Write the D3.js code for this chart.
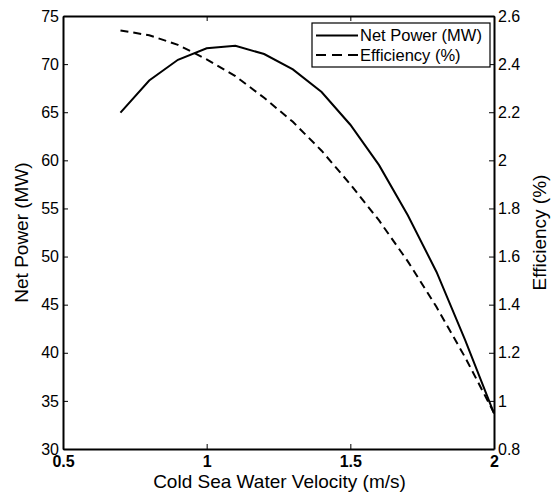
<!DOCTYPE html>
<html>
<head>
<meta charset="utf-8" />
<title>Net Power and Efficiency</title>
<style>
html, body { margin: 0; padding: 0; background: #fff; }
svg text { font-family: "Liberation Sans", Arial, Helvetica, sans-serif; fill: #000; }
</style>
</head>
<body>
<div id="chart"></div>
<script src="https://cdnjs.cloudflare.com/ajax/libs/d3/7.8.5/d3.min.js"></script>
<script>
// velocity (m/s)
var velocity = [0.7, 0.8, 0.9, 1.0, 1.1, 1.2, 1.3, 1.4, 1.5, 1.6, 1.7, 1.8, 1.9, 2.0]
// net power (MW)
var netPower = [64.95, 68.3, 70.45, 71.65, 71.9, 71.05, 69.45, 67.1, 63.7, 59.5, 54.3, 48.4, 41.3, 33.7]
// efficiency (%)
var efficiency = [2.54, 2.52, 2.48, 2.42, 2.35, 2.26, 2.16, 2.04, 1.90, 1.75, 1.58, 1.39, 1.18, 0.95]

var xTicks = [0.5, 1, 1.5, 2]
var yLeftTicks = [30, 35, 40, 45, 50, 55, 60, 65, 70, 75]
var yRightTicks = [0.8, 1, 1.2, 1.4, 1.6, 1.8, 2, 2.2, 2.4, 2.6]

var width = 555, height = 497
var m = {left: 63, right: 61, top: 16, bottom: 48}
var w = width - m.left - m.right, h = height - m.top - m.bottom

var svg = d3.select("#chart").append("svg")
    .attr("width", width).attr("height", height)
var g = svg.append("g").attr("transform", "translate(" + m.left + "," + m.top + ")")

var x = d3.scaleLinear().domain([0.5, 2]).range([0, w])
var yL = d3.scaleLinear().domain([30, 75]).range([h, 0])
var yR = d3.scaleLinear().domain([0.8, 2.6]).range([h, 0])

// axes
var xAxis = g.append("g").attr("transform", "translate(0," + h + ")")
    .call(d3.axisBottom(x).tickValues(xTicks).tickFormat(d3.format("")).tickSizeInner(-5).tickSizeOuter(0).tickPadding(7))
xAxis.selectAll("text").style("font-size", "16px").style("font-weight", "bold")

var xTop = g.append("g")
    .call(d3.axisTop(x).tickValues(xTicks).tickFormat("").tickSizeInner(-5).tickSizeOuter(0))

var yAxisL = g.append("g")
    .call(d3.axisLeft(yL).tickValues(yLeftTicks).tickSizeInner(-5).tickSizeOuter(0).tickPadding(4))
yAxisL.selectAll("text").style("font-size", "16px")

var yAxisR = g.append("g").attr("transform", "translate(" + w + ",0)")
    .call(d3.axisRight(yR).tickValues(yRightTicks).tickFormat(d3.format("")).tickSizeInner(-5).tickSizeOuter(0).tickPadding(4))
yAxisR.selectAll("text").style("font-size", "16px")

g.selectAll(".domain").attr("stroke", "#000").attr("stroke-width", 2)
g.selectAll(".tick line").attr("stroke", "#000")

// lines
var linePower = d3.line().x(function(d, i) { return x(velocity[i]) }).y(function(d) { return yL(d) })
var lineEff = d3.line().x(function(d, i) { return x(velocity[i]) }).y(function(d) { return yR(d) })

g.append("path").datum(efficiency).attr("d", lineEff)
    .attr("fill", "none").attr("stroke", "#000").attr("stroke-width", 2).attr("stroke-dasharray", "8,5")
g.append("path").datum(netPower).attr("d", linePower)
    .attr("fill", "none").attr("stroke", "#000").attr("stroke-width", 2)

// legend
var lg = svg.append("g").attr("transform", "translate(312,23)")
lg.append("rect").attr("width", 178).attr("height", 44)
    .attr("fill", "#fff").attr("stroke", "#000").attr("stroke-width", 1.2)
lg.append("line").attr("x1", 4).attr("x2", 46).attr("y1", 12.5).attr("y2", 12.5)
    .attr("stroke", "#000").attr("stroke-width", 2)
lg.append("line").attr("x1", 4).attr("x2", 46).attr("y1", 32).attr("y2", 32)
    .attr("stroke", "#000").attr("stroke-width", 2).attr("stroke-dasharray", "10,6")
lg.append("text").attr("x", 48).attr("y", 12.5).attr("dy", "0.35em").style("font-size", "16.5px").text("Net Power (MW)")
lg.append("text").attr("x", 48).attr("y", 32).attr("dy", "0.35em").style("font-size", "16.5px").text("Efficiency (%)")

// axis titles
svg.append("text").attr("x", 279.5).attr("y", 487.5).attr("text-anchor", "middle")
    .style("font-size", "19px").text("Cold Sea Water Velocity (m/s)")
svg.append("text").attr("transform", "translate(28," + (m.top + h / 2) + ") rotate(-90)")
    .attr("text-anchor", "middle").style("font-size", "19px").text("Net Power (MW)")
svg.append("text").attr("transform", "translate(546," + (m.top + h / 2) + ") rotate(-90)")
    .attr("text-anchor", "middle").style("font-size", "19px").text("Efficiency (%)")
</script>
</body>
</html>
